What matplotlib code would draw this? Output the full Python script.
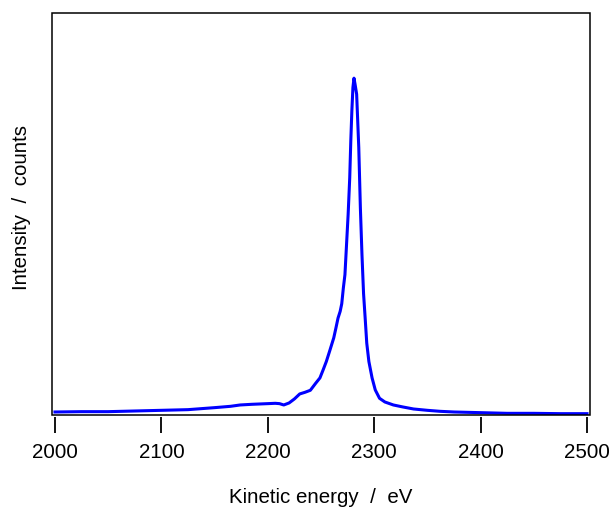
import matplotlib
matplotlib.use("Agg")
import matplotlib.pyplot as plt
from matplotlib.patches import Rectangle

plt.rcParams['font.family'] = ['Liberation Sans', 'DejaVu Sans']

# spectrum
energy = [2000, 2025, 2050, 2075, 2100, 2125, 2150, 2165, 2174, 2185, 2200,
          2207, 2211, 2215, 2220, 2225, 2230, 2235, 2240, 2245, 2249, 2252,
          2255, 2258, 2262, 2264, 2266, 2268, 2269.5, 2271, 2272.5, 2274,
          2275.5, 2277, 2278, 2279, 2280, 2281, 2282, 2283.5, 2284.5, 2285.5,
          2287, 2288.5, 2290, 2291.5, 2293, 2295, 2298, 2301, 2305, 2310,
          2318, 2327, 2337, 2350, 2362, 2375, 2400, 2425, 2450, 2475, 2500]
counts = [9, 10, 10, 12, 14, 16, 22, 26, 30, 32, 34,
          35, 34, 30, 36, 48, 63, 68, 74, 95, 111, 135,
          160, 190, 231, 260, 290, 310, 333, 380, 420, 510,
          600, 710, 820, 910, 980, 1008, 990, 960, 880, 800,
          620, 480, 363, 290, 215, 160, 111, 75, 50, 39,
          30, 24, 18, 14, 11, 9, 7, 5, 5, 4, 4]

fig = plt.figure(figsize=(6.11, 5.08), dpi=100)
ax = fig.add_axes([52 / 611, 93 / 508, 538 / 611, 402 / 508])

ax.plot(energy, counts, color='#0000ff', linewidth=2.2)

ax.set_xlim(1997.2, 2502.8)
ax.set_ylim(0, 1203)
ax.set_xticks([2000, 2100, 2200, 2300, 2400, 2500])
ax.set_yticks([])

# Igor-style: ticks set slightly below the frame
for side in ['top', 'bottom', 'left', 'right']:
    ax.spines[side].set_color('none')
ax.spines['bottom'].set_position(('outward', 1.6))
ax.add_patch(Rectangle((0, 0), 1, 1, transform=ax.transAxes, fill=False,
                       edgecolor='black', linewidth=1.1, clip_on=False, zorder=5))
ax.tick_params(axis='x', direction='out', length=11.2, width=1.3,
               pad=7.5, labelsize=14.8, color='black')

ax.set_xlabel('Kinetic energy  /  eV', fontsize=14.8)
ax.xaxis.set_label_coords(0.5, -0.219)
ax.xaxis.label.set_va('baseline')
ax.set_ylabel('Intensity  /  counts', fontsize=14.8)
ax.yaxis.set_label_coords(-0.057, 0.515)
ax.yaxis.label.set_va('center')

fig.savefig('out.png', dpi=100)
